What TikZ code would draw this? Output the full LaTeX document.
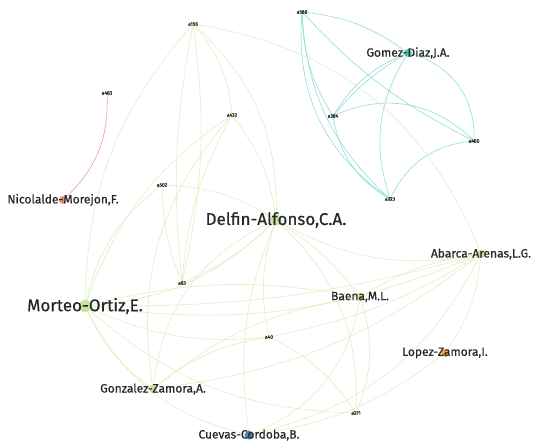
\documentclass[tikz,border=0pt]{standalone}
\usepackage{fontspec}
\setmainfont{Fira Sans}[FakeBold=0.4]
\definecolor{tealedge}{RGB}{140,224,216}
\definecolor{greenedge}{RGB}{226,238,194}
\definecolor{rededge}{RGB}{240,156,146}
\definecolor{greennode}{RGB}{196,230,150}
\definecolor{tealnode}{RGB}{70,198,184}
\definecolor{rednode}{RGB}{232,135,120}
\definecolor{orangenode}{RGB}{240,160,50}
\definecolor{bluenode}{RGB}{75,132,190}
\begin{document}
\pgfdeclarelayer{bg}
\pgfdeclarelayer{paper}
\pgfsetlayers{paper,bg,main}
\begin{tikzpicture}[x=1pt,y=-1pt,
  txt/.style={text=black!85, inner sep=0pt},
  biglbl/.style={txt, font=\fontsize{17}{17}\selectfont},
  lbl/.style={txt, font=\fontsize{12}{12}\selectfont},
  tinylbl/.style={txt, font=\fontsize{5}{5}\selectfont},
  dot/.style={circle, inner sep=0pt, minimum size=#1, draw=white!70!gray, line width=0.3pt},
  paper/.style={circle, inner sep=0pt, minimum size=3.5pt},
  gedge/.style={draw=greenedge, line width=0.6pt},
  tedge/.style={draw=tealedge, line width=0.6pt},
  redge/.style={draw=rededge, line width=0.6pt}]
\begin{pgfonlayer}{paper}
\fill[white] (0,0) rectangle (534,446);
\end{pgfonlayer}
\useasboundingbox (0,0) rectangle (534,446);

% authors
\node[dot=11pt, fill=greennode] (delfin) at (276,220) {};
\node[biglbl] (delfin-t) at (delfin) {Delfin-Alfonso,C.A.};
\node[dot=12pt, fill=greennode] (morteo) at (85,306) {};
\node[biglbl] (morteo-t) at (morteo) {Morteo-Ortiz,E.};
\node[dot=8pt, fill=tealnode] (gomez) at (408,53) {};
\node[lbl] (gomez-t) at (gomez) {Gomez-Diaz,J.A.};
\node[dot=8pt, fill=rednode] (nicol) at (63,200) {};
\node[lbl] (nicol-t) at (nicol) {Nicolalde-Morejon,F.};
\node[dot=8pt, fill=greennode] (abarca) at (481,254) {};
\node[lbl] (abarca-t) at (abarca) {Abarca-Arenas,L.G.};
\node[dot=8pt, fill=greennode] (baena) at (360,297) {};
\node[lbl] (baena-t) at (baena) {Baena,M.L.};
\node[dot=8pt, fill=orangenode] (lopez) at (445,353) {};
\node[lbl] (lopez-t) at (lopez) {Lopez-Zamora,I.};
\node[dot=8pt, fill=greennode] (gonz) at (153,389) {};
\node[lbl] (gonz-t) at (gonz) {Gonzalez-Zamora,A.};
\node[dot=9pt, fill=bluenode] (cuevas) at (249,435) {};
\node[lbl] (cuevas-t) at (cuevas) {Cuevas-Cordoba,B.};

% papers
\node[paper, fill=tealnode] (a588) at (302,12) {};
\node[tinylbl] at (a588) {a588};
\node[paper, fill=tealnode] (a384) at (333,116) {};
\node[tinylbl] at (a384) {a384};
\node[paper, fill=tealnode] (a480) at (474,141) {};
\node[tinylbl] at (a480) {a480};
\node[paper, fill=tealnode] (a223) at (390,199) {};
\node[tinylbl] at (a223) {a223};
\node[paper, fill=greennode] (a156) at (193,24) {};
\node[tinylbl] at (a156) {a156};
\node[paper, fill=rednode] (a483) at (107,93) {};
\node[tinylbl] at (a483) {a483};
\node[paper, fill=greennode] (a432) at (232,115) {};
\node[tinylbl] at (a432) {a432};
\node[paper, fill=greennode] (a502) at (162,185) {};
\node[tinylbl] at (a502) {a502};
\node[paper, fill=greennode] (a63) at (182,283) {};
\node[tinylbl] at (a63) {a63};
\node[paper, fill=greennode] (a40) at (269,337) {};
\node[tinylbl] at (a40) {a40};
\node[paper, fill=greennode] (a271) at (356,413) {};
\node[tinylbl] at (a271) {a271};

\begin{pgfonlayer}{bg}
% teal cluster
\draw[tedge] (a588.center) to[bend left=15] (gomez.center);
\draw[tedge] (a588.center) to[bend right=15] (a384.center);
\draw[tedge] (a588.center) to[bend right=10] (a480.center);
\draw[tedge] (a588.center) to[bend right=22] (a223.center);
\draw[tedge] (a588.center) to[bend right=30] (a223.center);
\draw[tedge] (gomez.center) to[bend right=10] (a384.center);
\draw[tedge] (gomez.center) to[bend right=18] (a384.center);
\draw[tedge] (gomez.center) to[bend left=40] (a480.center);
\draw[tedge] (gomez.center) to[bend right=25] (a223.center);
\draw[tedge] (a384.center) to[bend left=35] (a480.center);
\draw[tedge] (a384.center) to[bend right=25] (a223.center);
\draw[tedge] (a480.center) to[bend right=30] (a223.center);
% red link
\draw[redge] (a483.center) to[bend left=25] (nicol.center);
% green cluster
\draw[gedge] (a156.center) to[bend left=25] (delfin.center);
\draw[gedge] (a156.center) to[bend right=20] (morteo.center);
\draw[gedge] (a156.center) to[bend left=10] (a63.center);
\draw[gedge] (a156.center) to[bend right=8] (a63.center);
\draw[gedge] (a156.center) to[bend left=18] (a432.center);
\draw[gedge] (a156.center) to[bend left=30] (abarca.center);
\draw[gedge] (a432.center) to[bend right=18] (morteo.center);
\draw[gedge] (a432.center) to[bend right=12] (a63.center);
\draw[gedge] (a432.center) to[bend left=15] (delfin.center);
\draw[gedge] (a432.center) to[bend right=25] (gonz.center);
\draw[gedge] (a502.center) to[bend left=15] (delfin.center);
\draw[gedge] (a502.center) to[bend right=10] (a63.center);
\draw[gedge] (a502.center) to[bend right=20] (morteo.center);
\draw[gedge] (delfin.center) to[bend left=20] (morteo.center);
\draw[gedge] (delfin.center) to[bend right=20] (abarca.center);
\draw[gedge] (delfin.center) to[bend left=10] (baena.center);
\draw[gedge] (delfin.center) to[bend right=15] (a40.center);
\draw[gedge] (delfin.center) to[bend left=25] (a271.center);
\draw[gedge] (delfin.center) to[bend right=30] (gonz.center);
\draw[gedge] (delfin.center) to[bend right=15] (cuevas.center);
\draw[gedge] (morteo.center) to[bend right=15] (a40.center);
\draw[gedge] (morteo.center) to[bend right=15] (abarca.center);
\draw[gedge] (morteo.center) to[bend right=8] (abarca.center);
\draw[gedge] (morteo.center) to[bend left=12] (baena.center);
\draw[gedge] (morteo.center) to[bend right=20] (a271.center);
\draw[gedge] (morteo.center) to[bend right=15] (gonz.center);
\draw[gedge] (morteo.center) to[bend right=25] (cuevas.center);
\draw[gedge] (abarca.center) to[bend left=10] (a40.center);
\draw[gedge] (abarca.center) to[bend right=12] (baena.center);
\draw[gedge] (abarca.center) to[bend left=15] (lopez.center);
\draw[gedge] (abarca.center) to[bend left=15] (gonz.center);
\draw[gedge] (abarca.center) to[bend left=25] (cuevas.center);
\draw[gedge] (baena.center) to[bend left=20] (a271.center);
\draw[gedge] (baena.center) to[bend left=30] (cuevas.center);
\draw[gedge] (baena.center) to[bend right=15] (gonz.center);
\draw[gedge] (a40.center) to[bend left=15] (a271.center);
\draw[gedge] (a40.center) to[bend right=15] (gonz.center);
\draw[gedge] (lopez.center) to[bend left=15] (cuevas.center);
\draw[gedge] (a63.center) to[bend right=10] (delfin.center);
\end{pgfonlayer}
\end{tikzpicture}
\end{document}
